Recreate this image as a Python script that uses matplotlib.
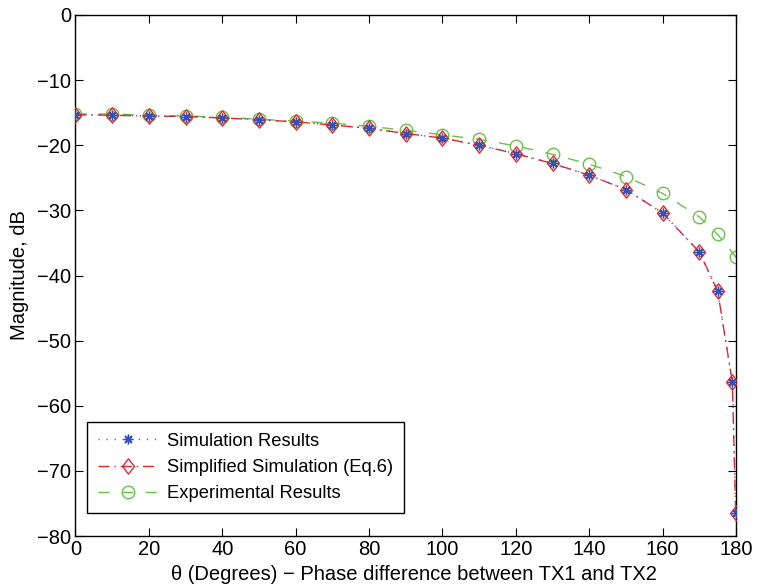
import matplotlib
matplotlib.use("Agg")
import matplotlib.pyplot as plt
from matplotlib.path import Path

plt.rcParams['font.family'] = ['Liberation Sans', 'DejaVu Sans']

theta_sim = [0, 10, 20, 30, 40, 50, 60, 70, 80, 90, 100, 110, 120, 130, 140,
             150, 160, 170, 175, 179, 179.9]
sim_results = [-15.3, -15.4, -15.5, -15.6, -15.8, -16.1, -16.4, -16.9, -17.4,
               -18.2, -18.9, -20.0, -21.3, -22.8, -24.6, -26.8, -30.4, -36.4,
               -42.4, -56.4, -76.4]
simplified = [-15.3, -15.4, -15.5, -15.6, -15.8, -16.1, -16.4, -16.9, -17.4,
              -18.2, -18.9, -20.0, -21.3, -22.8, -24.6, -26.8, -30.4, -36.4,
              -42.4, -56.4, -76.4]
theta_exp = [0, 10, 20, 30, 40, 50, 60, 70, 80, 90, 100, 110, 120, 130, 140,
             150, 160, 170, 175, 180]
experimental = [-15.2, -15.2, -15.4, -15.5, -15.7, -16.0, -16.3, -16.6, -17.1,
                -17.7, -18.4, -19.1, -20.1, -21.4, -22.9, -24.8, -27.4, -31.0,
                -33.7, -37.2]

labels = ['Simulation Results', 'Simplified Simulation (Eq.6)', 'Experimental Results']
xlabel = 'θ (Degrees) \u2212 Phase difference between TX1 and TX2'
ylabel = 'Magnitude, dB'

blue = '#3550b0'
red = '#e8262a'
green = '#6cc04a'

diamond = Path([(0, 1), (0.78, 0), (0, -1), (-0.78, 0), (0, 1)],
               [Path.MOVETO, Path.LINETO, Path.LINETO, Path.LINETO, Path.CLOSEPOLY])

fig = plt.figure(figsize=(7.57, 5.88), dpi=100)
ax = fig.add_axes([0.0997, 0.0884, 0.8726, 0.8861])

ax.plot(theta_sim, sim_results, linestyle=(0, (0.8, 5)), color=blue, lw=1.0,
        marker=(8, 2, 0), ms=7, mew=1.0, label=labels[0], zorder=4)
ax.plot(theta_sim, simplified, linestyle=(0, (8, 3.5, 1, 3.5)), color=red, lw=1.0,
        marker=diamond, ms=11, mfc='none', mec=red, mew=1.0, label=labels[1], zorder=3)
ax.plot(theta_exp, experimental, linestyle=(0, (8, 9)), color=green, lw=1.0,
        marker='o', ms=9, mfc='none', mec=green, mew=1.0, label=labels[2], zorder=2)

ax.set_xlim(0, 180)
ax.set_ylim(-80, 0)
ax.set_xticks(range(0, 181, 20))
ax.set_yticks(range(-80, 1, 10))
ax.tick_params(direction='in', top=True, right=True, length=6, labelsize=14.5,
               width=0.8, pad=3)
for s in ax.spines.values():
    s.set_linewidth(1.0)
ax.set_xlabel(xlabel, fontsize=14.5, labelpad=1)
ax.xaxis.set_label_coords(0.512, -0.055)
ax.xaxis.label.set_va('top')
ax.set_ylabel(ylabel, fontsize=14.5, labelpad=6)

leg = ax.legend(loc='lower left', fontsize=13.2, frameon=True, fancybox=False,
                edgecolor='black', framealpha=1, borderpad=0.6, handlelength=3.3,
                handletextpad=0.48, borderaxespad=0,
                labelspacing=0.5, bbox_to_anchor=(0.0174, 0.044))
leg.get_frame().set_linewidth(1.0)

fig.savefig('out.png', dpi=100)
